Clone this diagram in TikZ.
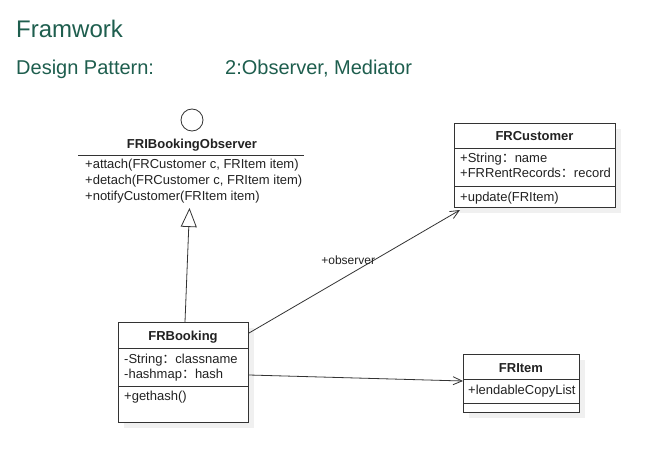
\documentclass[tikz,border=0pt]{standalone}
\usepackage{fontspec}
\setmainfont{Liberation Sans}
\newfontfamily\cjk{Noto Sans CJK SC}
\usetikzlibrary{arrows.meta,calc}
\definecolor{ttl}{HTML}{1E5E4E}
\definecolor{ln}{HTML}{333333}
\definecolor{tx}{HTML}{222222}
\definecolor{shd}{HTML}{F0F0F0}
\newcommand{\fc}{{\cjk ：}}
\tikzset{
  box/.style={draw=ln, line width=1pt, fill=white, anchor=north west, inner sep=0pt},
  shadowbox/.style={fill=shd, draw=none},
  sep/.style={draw=ln, line width=1pt},
  ctitle/.style={font=\fontsize{13}{15}\selectfont\bfseries, text=tx, anchor=base, inner sep=0pt},
  ctext/.style={font=\fontsize{13}{15}\selectfont, text=tx, anchor=base west, inner sep=0pt},
  hdr/.style={text=ttl, anchor=base west, inner sep=0pt},
  assoc/.style={draw=ln, line width=0.8pt, -{Straight Barb[length=9pt,width=8pt]}},
  real/.style={draw=ln, line width=0.8pt, -{Triangle[open, length=19pt, width=16pt, fill=white]}},
}
\begin{document}
\begin{tikzpicture}[x=1pt,y=-1pt]
\useasboundingbox (0,0) rectangle (654,463);
\fill[white] (0,0) rectangle (654,463);
% headers
\node[hdr, font=\fontsize{24}{28}\selectfont] (t1) at (16,37) {Framwork};
\node[hdr, font=\fontsize{20}{24}\selectfont] (t2) at (16,74) {Design Pattern:};
\node[hdr, font=\fontsize{20}{24}\selectfont] (t3) at (225,74) {2:Observer, Mediator};

% interface
\node[draw=ln, line width=0.8pt, circle, minimum size=22pt, inner sep=0pt] (lolli) at (192,120) {};
\node[ctitle] (iface) at (192,148) {FRIBookingObserver};
\draw[draw=ln, line width=1pt] (78,155) -- (304,155);
\node[ctext] (im1) at (85,168) {+attach(FRCustomer c, FRItem item)};
\node[ctext] (im2) at (85,184) {+detach(FRCustomer c, FRItem item)};
\node[ctext] (im3) at (85,200) {+notifyCustomer(FRItem item)};
\coordinate (ifacebot) at (189.5,208);

% shadows
\fill[shd] (460,129) rectangle (621,213);
\fill[shd] (124,328) rectangle (254,428);
\fill[shd] (469,360) rectangle (585,418);

% FRCustomer
\node[box, minimum width=161pt, minimum height=84pt] (cust) at (454,123) {};
\draw[sep] (454,148) -- (615,148);
\draw[sep] (454,186) -- (615,186);
\node[ctitle] (custt) at (534.5,140.5) {FRCustomer};
\node[ctext] (ca1) at (460,162.5) {+String\fc name};
\node[ctext] (ca2) at (460,177.5) {+FRRentRecords\fc record};
\node[ctext] (cm1) at (460,201) {+update(FRItem)};

% FRBooking
\node[box, minimum width=130pt, minimum height=100pt] (book) at (118,322) {};
\draw[sep] (118,348) -- (248,348);
\draw[sep] (118,386) -- (248,386);
\node[ctitle] (bookt) at (183,340.5) {FRBooking};
\node[ctext] (ba1) at (124,363.5) {-String\fc classname};
\node[ctext] (ba2) at (124,378.5) {-hashmap\fc hash};
\node[ctext] (bm1) at (124,400.5) {+gethash()};

% FRItem
\node[box, minimum width=116pt, minimum height=58pt] (item) at (463,354) {};
\draw[sep] (463,379) -- (579,379);
\draw[sep] (463,403) -- (579,403);
\node[ctitle] (itemt) at (521,372.5) {FRItem};
\node[ctext] (ia1) at (468,394.5) {+lendableCopyList};

% connectors
\draw[real] ([xshift=67pt]book.north west) -- (ifacebot);
\draw[assoc] ([yshift=-11pt]book.north east) -- node[pos=0.47, font=\fontsize{12}{14}\selectfont, text=tx, inner sep=0pt, yshift=15pt] (obs) {+observer} ([xshift=6pt,yshift=-2pt]cust.south west);
\draw[assoc] ([yshift=-53pt]book.north east) -- ([yshift=-27pt]item.north west);
\end{tikzpicture}
\end{document}
